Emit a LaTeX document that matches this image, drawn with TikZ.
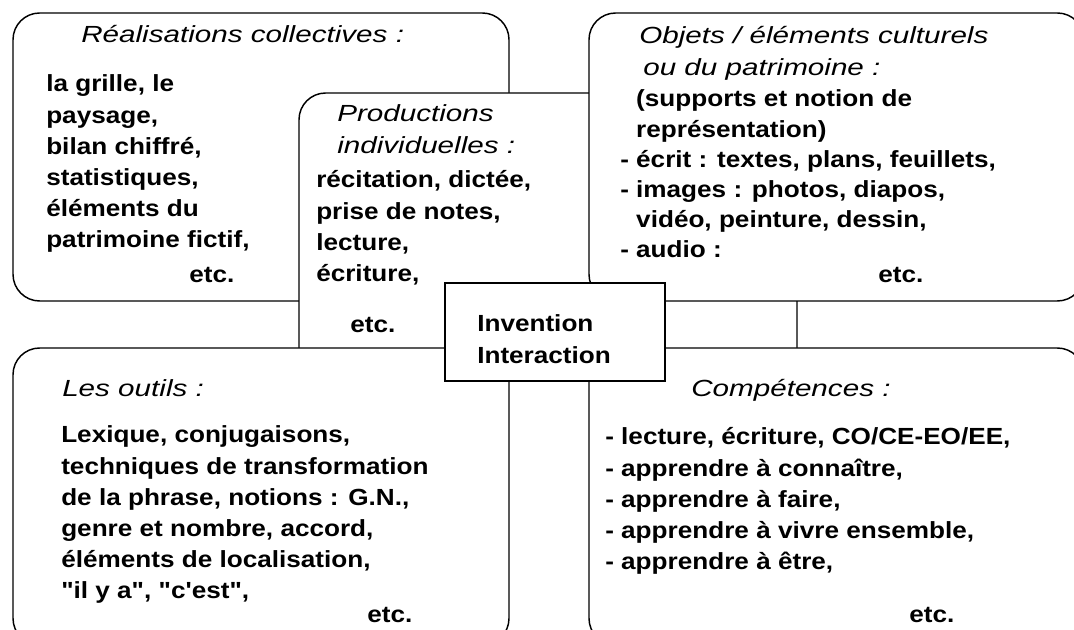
\documentclass[tikz,border=0pt]{standalone}
\usepackage{fontspec}
\setmainfont{Liberation Sans}[FakeStretch=1.12,Ligatures=TeXOff]
\newfontfamily\headfont{Liberation Sans}[FakeStretch=1.27]
\usetikzlibrary{positioning}
% left aligned block whose baseline is its first line
\newcommand{\lines}[1]{\begin{tabular}[t]{@{}l@{}}#1\end{tabular}}

\begin{document}
\begin{tikzpicture}[
 x=0.75pt,y=-0.75pt,
 every node/.style={inner sep=0pt,anchor=base west},
 panel/.style={draw,fill=white,line width=1.1pt,rounded corners=20pt},
 hub/.style={draw,fill=white,line width=1.1pt},
 head/.style={font=\headfont\itshape\fontsize{17.5}{23.4}\selectfont},
 body/.style={font=\bfseries\fontsize{17.5}{23.4}\selectfont},
 tight/.style={font=\bfseries\fontsize{17.5}{22.6}\selectfont}
]
\useasboundingbox (0,0) rectangle (1074,630);
\clip (0,0) rectangle (1074,630);

% panels, back to front
\path[panel] (13,13) rectangle (509,301);
\path[panel] (299,93) rectangle (797,700);
\path[panel] (589,13) rectangle (1084,301);
\path[panel] (13,348) rectangle (509,645);
\path[panel] (589,348) rectangle (1084,645);
\path[hub] (445,283) rectangle (665,381);

% collective work
\node[head] (realhead) at (81,43) {Réalisations collectives :};
\node[body] (realtext) at (46,92) {\lines{la grille, le\\paysage,\\bilan chiffré,\\statistiques,\\éléments du\\patrimoine fictif,}};
\node[body] (realetc) at (189,283) {etc.};

% individual work
\node[head] (prodhead) at (337,122) {\lines{Productions\\individuelles :}};
\node[body] (prodtext) at (316,188) {\lines{récitation, dictée,\\prise de notes,\\lecture,\\écriture,}};
\node[body] (prodetc) at (350,333) {etc.};

% cultural objects
\node[head] (objhead) at (639,44) {\lines{Objets / éléments culturels\\\hspace*{3pt}ou du patrimoine :}};
\node[tight] (objtext) at (620,107) {\lines{\phantom{- }(supports et notion de\\\phantom{- }représentation)\\- écrit : textes, plans, feuillets,\\- images : photos, diapos,\\\phantom{- }vidéo, peinture, dessin,\\- audio :}};
\node[body] (objetc) at (878,283) {etc.};

% tools
\node[head] (toolhead) at (62,397) {Les outils :};
\node[body] (tooltext) at (61,443) {\lines{Lexique, conjugaisons,\\techniques de transformation\\de la phrase, notions : G.N.,\\genre et nombre, accord,\\éléments de localisation,\\"il y a", "c'est",}};
\node[body] (tooletc) at (367,622) {etc.};

% skills
\node[head] (skillhead) at (691,397) {Compétences :};
\node[body] (skilltext) at (605,445) {\lines{- lecture, écriture, CO/CE-EO/EE,\\- apprendre à connaître,\\- apprendre à faire,\\- apprendre à vivre ensemble,\\- apprendre à être,}};
\node[body] (skilletc) at (909,622) {etc.};

% centre
\node[body] (hubtext) at (477,332) {\lines{Invention\\Interaction}};
\end{tikzpicture}
\end{document}
